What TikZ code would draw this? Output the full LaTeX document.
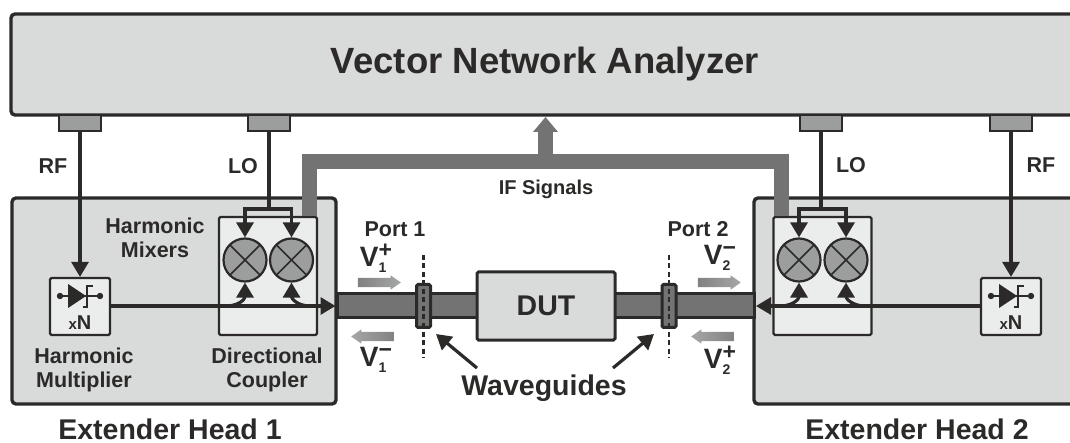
\documentclass[tikz,border=0pt]{standalone}
\usepackage{fontspec}
\setmainfont{Liberation Sans}
\usepackage{tikz}
\usetikzlibrary{arrows.meta, shapes.arrows, positioning}
\definecolor{ink}{HTML}{2B2A29}
\definecolor{panel}{HTML}{D9DADA}
\definecolor{pale}{HTML}{EBECEC}
\definecolor{plug}{HTML}{9C9D9D}
\definecolor{guide}{HTML}{737373}
\newcommand{\portv}[2]{V\rlap{\raisebox{-6pt}{\fontsize{14}{14}\selectfont #1}}\raisebox{9pt}{\fontsize{23}{23}\selectfont #2}}

\begin{document}
\begin{tikzpicture}[
        x=1pt, y=-1pt,
        every node/.style={text=ink, font=\bfseries},
        frame/.style={rectangle, draw=ink, fill=panel, line width=3.4pt, rounded corners=4pt, inner sep=0pt},
        plugbox/.style={rectangle, draw=ink, fill=plug, line width=1.5pt, minimum width=42pt, minimum height=16pt, inner sep=0pt},
        unit/.style={rectangle, draw=ink, fill=pale, line width=2.2pt, rounded corners=1.5pt, inner sep=0pt},
        mixer/.style={circle, draw=ink, fill=plug, line width=2.2pt, minimum size=43pt, inner sep=0pt,
            path picture={
                \draw[ink, line width=1.6pt] (path picture bounding box.center) +(-16,-16) -- +(16,16);
                \draw[ink, line width=1.6pt] (path picture bounding box.center) +(-16,16) -- +(16,-16);
            }},
        guidebar/.style={rectangle, draw=ink, fill=guide, line width=3pt, minimum height=24pt, inner sep=0pt},
        flange/.style={rectangle, draw=ink, fill=guide, line width=3pt, rounded corners=1.5pt, minimum width=14pt, minimum height=43pt, inner sep=0pt},
        sig/.style={draw=ink, line width=3.2pt, -{Triangle[length=15pt,width=17pt]}},
        wire/.style={draw=ink, line width=3.2pt},
        ifbus/.style={draw=guide, line width=15pt},
        portline/.style={draw=ink, line width=2.6pt, dash pattern=on 5pt off 3.5pt},
        wave/.style={single arrow, minimum height=43pt, text height=9pt, text depth=0pt, text width=0pt, inner sep=0pt,
            single arrow head extend=2.5pt, single arrow tip angle=70},
        small/.style={font=\bfseries\fontsize{21.5}{24.5}\selectfont},
        big/.style={font=\bfseries\fontsize{28.5}{30}\selectfont},
        volt/.style={font=\bfseries\fontsize{28}{30}\selectfont},
        diode/.pic={
            \draw[ink, line width=2pt] (-20,0) -- (20,0);
            \fill[ink] (-20,0) circle (3.2pt) (20,0) circle (3.2pt);
            \fill[ink] (-12,-12) -- (6,0) -- (-12,12) -- cycle;
            \draw[ink, line width=1.4pt] (13,-10) -- (7,-10) -- (7,11) -- (3,11);
        }
    ]
    \path[use as bounding box, clip] (0,0) rectangle (1070,443);

    \node[frame, minimum width=1068pt, minimum height=101pt, font=\bfseries\fontsize{36.5}{38}\selectfont] (vna) at (545,64.5) {\raisebox{4pt}{Vector Network Analyzer}};
    \node[plugbox] (rfa) at (80,123) {};
    \node[plugbox] (loa) at (269,123) {};
    \node[plugbox] (lob) at (821,123) {};
    \node[plugbox] (rfb) at (1011,123) {};

    \node[frame, minimum width=324pt, minimum height=206pt] (heada) at (174,301) {};
    \node[frame, minimum width=346pt, minimum height=206pt] (headb) at (927,301) {};

    \node[unit, minimum width=98pt, minimum height=118pt] (coupa) at (268,276) {};
    \node[unit, minimum width=98pt, minimum height=118pt] (coupb) at (822.5,276) {};
    \node[unit, minimum width=60pt, minimum height=57pt] (multa) at (80,306.5) {};
    \node[unit, minimum width=60pt, minimum height=57pt] (multb) at (1011,306.5) {};

    \node[mixer] (mixa) at (245,260) {};
    \node[mixer] (mixb) at (291.5,260) {};
    \node[mixer] (mixc) at (799,260) {};
    \node[mixer] (mixd) at (846,260) {};

    \coordinate (ifl) at (309,162);
    \coordinate (ifr) at (781.5,162);
    \coordinate (ift) at (545.5,162);
    \coordinate (iftip) at (545.5,117);
    \draw[ifbus] (coupa.north -| ifl) -- (ifl) -- (ifr) -- (coupb.north -| ifr);
    \draw[ifbus, -{Triangle[length=15pt,width=24pt]}] (ift) -- (iftip);

    \node[guidebar, minimum width=140pt] (wga) at (407,306) {};
    \node[guidebar, minimum width=140pt] (wgb) at (684.5,306) {};
    \node[rectangle, draw=ink, fill=panel, line width=3pt, rounded corners=1.5pt, minimum width=138pt, minimum height=68pt, inner sep=0pt, big] (dut) at (546,306) {DUT};
    \node[flange] (fla) at (423.5,306) {};
    \node[flange] (flb) at (669,306) {};

    \coordinate (pat) at (423.5,255);
    \coordinate (pab) at (423.5,358);
    \coordinate (pbt) at (669,255);
    \coordinate (pbb) at (669,358);
    \draw[portline] (pat) -- (pab);
    \draw[portline] (pbt) -- (pbb);

    % signal paths
    \draw[sig] (rfa.south) -- (multa.north);
    \draw[sig] (rfb.south) -- (multb.north);
    \coordinate (tapa) at (269,209);
    \coordinate (tapb) at (821,209);
    \draw[wire] (loa.south) -- (tapa);
    \draw[wire] (lob.south) -- (tapb);
    \draw[sig] (tapa) -| (mixa.north);
    \draw[sig] (tapa) -| (mixb.north);
    \draw[sig] (tapb) -| (mixc.north);
    \draw[sig] (tapb) -| (mixd.north);

    \draw[sig] (multa.east |- wga) -- (wga.west);
    \draw[sig] (multb.west |- wgb) -- (wgb.east);
    \coordinate (bra) at (226,306);
    \coordinate (brb) at (310,306);
    \coordinate (brc) at (780,306);
    \coordinate (brd) at (865,306);
    \draw[sig] (bra) .. controls (239,306) and (245,299) .. (mixa.south);
    \draw[sig] (brb) .. controls (298,306) and (291.5,299) .. (mixb.south);
    \draw[sig] (brc) .. controls (793,306) and (799,299) .. (mixc.south);
    \draw[sig] (brd) .. controls (853,306) and (846,299) .. (mixd.south);

    \pic at (80,296) {diode};
    \pic at (1011,296) {diode};
    \node[inner sep=0pt] (xna) at (80,323) {\fontsize{15}{15}\selectfont x\fontsize{20}{20}\selectfont N};
    \node[inner sep=0pt] (xnb) at (1011,323) {\fontsize{15}{15}\selectfont x\fontsize{20}{20}\selectfont N};

    \node[wave, left color=guide!90, right color=plug!90] (vap) at (376,282.5) {};
    \node[wave, left color=plug!90, right color=guide!90, shape border rotate=180] (vam) at (376,336.5) {};
    \node[wave, left color=guide!90, right color=plug!90] (vbm) at (716,282.5) {};
    \node[wave, left color=plug!90, right color=guide!90, shape border rotate=180] (vbp) at (716,336.5) {};

    \node[small] (rfla) at (53,166) {RF};
    \node[small] (lola) at (243,166) {LO};
    \node[small] (lolb) at (851,165) {LO};
    \node[small] (rflb) at (1041,165) {RF};
    \node[small, font=\bfseries\fontsize{20}{24}\selectfont] (iflab) at (546,189) {IF Signals};
    \node[small] (mixlab) at (155,240.5) {\begin{tabular}{@{}c@{}}Harmonic\\Mixers\end{tabular}};
    \node[small] (multlab) at (84,370.5) {\begin{tabular}{@{}c@{}}Harmonic\\Multiplier\end{tabular}};
    \node[small] (couplab) at (267,370.5) {\begin{tabular}{@{}c@{}}Directional\\Coupler\end{tabular}};
    \node[small] (porta) at (395,229) {Port 1};
    \node[small] (portb) at (698,229) {Port 2};

    \node[volt, inner sep=0pt] (vapl) at (376,258) {\portv{1}{+}};
    \node[volt, inner sep=0pt] (vaml) at (376,360) {\portv{1}{−}};
    \node[volt, inner sep=0pt] (vbml) at (720,258) {\portv{2}{−}};
    \node[volt, inner sep=0pt] (vbpl) at (720,360) {\portv{2}{+}};

    \node[big] (wglab) at (544,388) {Waveguides};
    \node[big] (extla) at (170,429) {Extender Head 1};
    \node[big] (extlb) at (917,429) {Extender Head 2};

    \coordinate (wta) at (436,334);
    \coordinate (wtb) at (654,334);
    \coordinate (wsa) at (477,368);
    \coordinate (wsb) at (613,368);
    \draw[sig] (wsa) -- (wta);
    \draw[sig] (wsb) -- (wtb);
\end{tikzpicture}
\end{document}
